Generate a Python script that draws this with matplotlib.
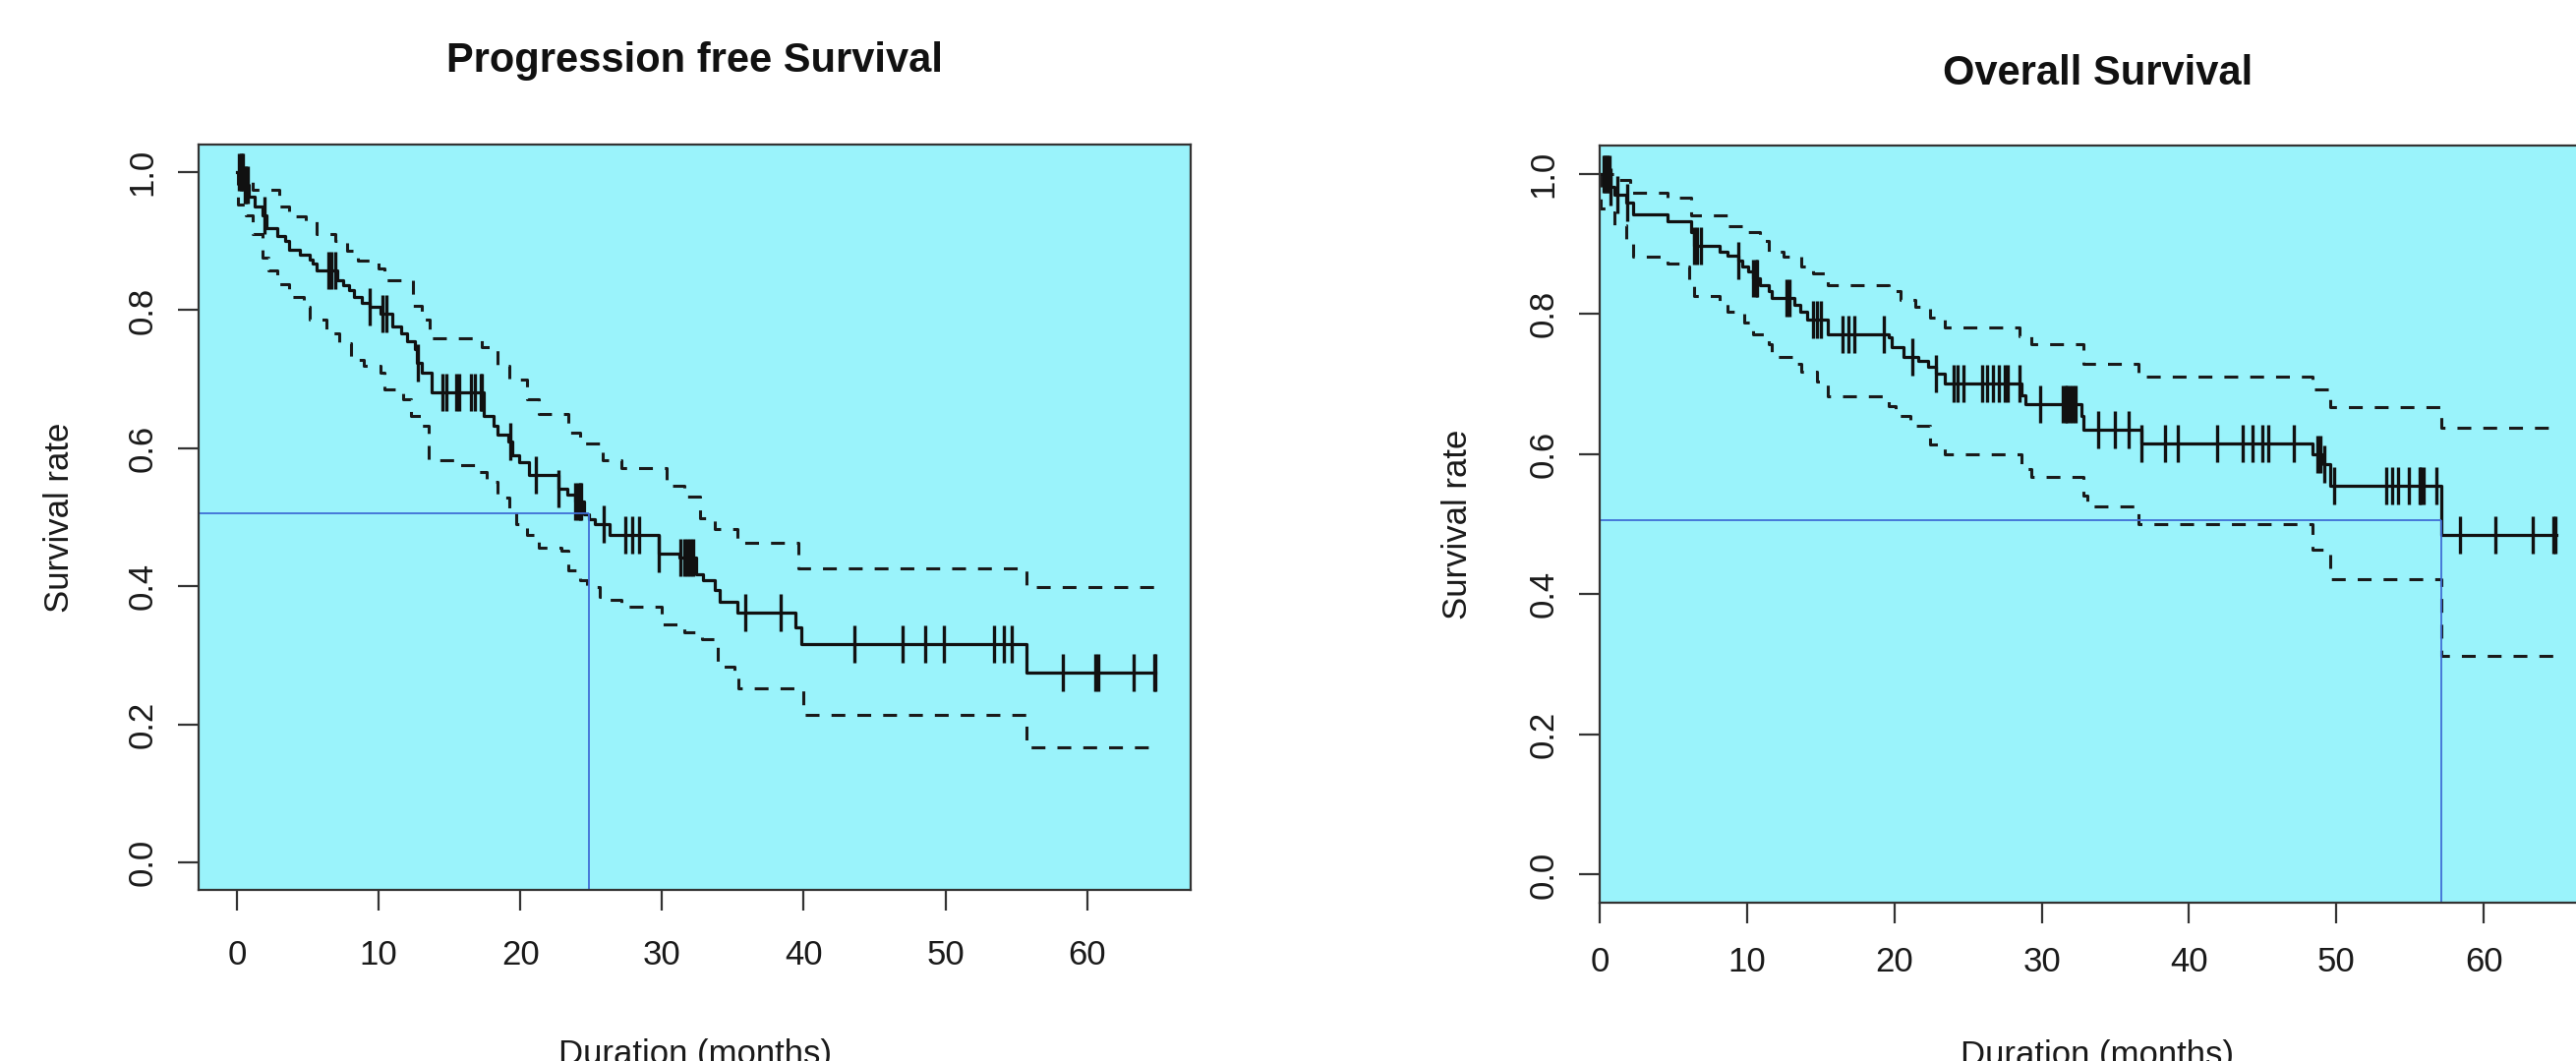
import numpy as np
import matplotlib
matplotlib.use('Agg')
import matplotlib.pyplot as plt

plt.rcParams['font.family'] = ['Liberation Sans', 'DejaVu Sans']

# ---- Progression free survival (months, survival) ----
pfs_time = [0, 0.48, 0.87, 1.27, 1.8, 2.07, 2.86, 3.39, 3.66, 4.45,
            5.11, 5.38, 5.64, 7.1, 7.5, 7.9, 8.29, 8.82, 9.35, 10.15,
            10.94, 11.61, 12.0, 12.53, 12.67, 13.06, 13.73, 17.44, 18.1, 18.36,
            19.16, 19.42, 19.95, 20.6, 22.7, 23.3, 23.9, 24.5, 24.85, 25.25,
            26.3, 29.75, 31.2, 32.4, 32.9, 33.7, 34.1, 35.3, 39.4, 39.8,
            55.7, 64.8]
pfs_surv = [1.0, 0.981, 0.965, 0.950, 0.938, 0.919, 0.907, 0.900, 0.888, 0.881,
            0.874, 0.867, 0.857, 0.843, 0.836, 0.829, 0.819, 0.810, 0.805, 0.795,
            0.776, 0.767, 0.755, 0.743, 0.724, 0.709, 0.681, 0.647, 0.633, 0.619,
            0.609, 0.590, 0.580, 0.561, 0.542, 0.533, 0.523, 0.504, 0.497, 0.490,
            0.475, 0.447, 0.442, 0.418, 0.409, 0.394, 0.378, 0.362, 0.340, 0.316,
            0.275, 0.275]
pfs_up_time = [0, 0.5, 1.14, 3.0, 3.66, 4.85, 5.64, 6.97, 7.76, 8.56,
               10.0, 10.4, 12.4, 13.06, 13.6, 17.3, 18.4, 19.2, 20.5, 21.3,
               23.4, 24.2, 25.8, 27.1, 30.3, 31.6, 32.7, 33.7, 35.3, 39.6,
               55.7, 64.8]
pfs_up = [1.0, 0.99, 0.974, 0.950, 0.936, 0.929, 0.910, 0.900, 0.886, 0.872,
          0.860, 0.843, 0.807, 0.786, 0.759, 0.747, 0.719, 0.700, 0.671, 0.650,
          0.623, 0.607, 0.583, 0.571, 0.545, 0.530, 0.499, 0.483, 0.463, 0.426,
          0.399, 0.399]
pfs_lo_time = [0, 0.08, 0.61, 1.14, 1.8, 2.2, 2.86, 3.66, 4.72, 5.11,
               6.3, 7.23, 8.03, 8.96, 10.15, 10.4, 11.7, 12.27, 13.06, 13.5,
               15.45, 16.8, 17.6, 18.4, 19.2, 19.7, 20.5, 21.3, 22.9, 23.4,
               24.2, 24.7, 25.6, 26.3, 27.1, 30.0, 31.6, 32.8, 33.9, 35.1,
               35.4, 40.0, 55.7, 64.8]
pfs_lo = [1.0, 0.953, 0.938, 0.910, 0.876, 0.857, 0.838, 0.819, 0.805, 0.786,
          0.767, 0.752, 0.728, 0.719, 0.709, 0.685, 0.671, 0.647, 0.633, 0.582,
          0.576, 0.566, 0.552, 0.528, 0.509, 0.490, 0.475, 0.456, 0.452, 0.423,
          0.409, 0.399, 0.385, 0.380, 0.370, 0.345, 0.333, 0.323, 0.284, 0.270,
          0.252, 0.213, 0.166, 0.166]
pfs_censored = [0.15, 0.25, 0.35, 0.45, 0.55, 0.65, 0.75, 1.93, 6.44, 6.70,
                6.97, 9.35, 10.28, 10.55, 12.8, 14.5, 14.8, 15.45, 15.7, 16.5,
                16.8, 17.2, 17.3, 19.3, 21.1, 22.7, 23.9, 24.05, 24.2, 24.3,
                25.9, 27.4, 27.9, 28.4, 29.75, 31.3, 31.6, 31.8, 32.0, 32.2,
                35.85, 38.4, 43.6, 47.0, 48.6, 49.9, 53.4, 54.1, 54.7, 58.3,
                60.6, 60.8, 63.3, 64.7, 64.8]
pfs_median = 24.86

# ---- Overall survival ----
os_time = [0, 0.76, 1.02, 1.78, 2.29, 4.58, 6.23, 6.4, 8.14, 8.65,
           9.4, 9.67, 10.05, 10.4, 10.9, 11.45, 11.7, 13.2, 13.6, 14.1,
           15.5, 19.6, 19.85, 20.6, 21.6, 22.3, 22.8, 23.4, 28.6, 28.9,
           32.7, 32.8, 36.8, 48.4, 49.1, 49.6, 57.1, 64.9]
os_surv = [1.0, 0.981, 0.970, 0.958, 0.942, 0.932, 0.916, 0.897, 0.888, 0.883,
           0.876, 0.867, 0.860, 0.850, 0.841, 0.832, 0.822, 0.813, 0.803, 0.792,
           0.771, 0.766, 0.752, 0.738, 0.733, 0.724, 0.715, 0.700, 0.684, 0.671,
           0.654, 0.635, 0.615, 0.600, 0.585, 0.555, 0.485, 0.485]
os_up_time = [0, 0.25, 1.0, 2.04, 4.58, 6.23, 8.65, 9.9, 10.9, 11.45,
              12.5, 13.7, 14.5, 15.5, 19.6, 20.4, 21.4, 22.4, 23.4, 28.5,
              29.3, 32.8, 36.6, 48.4, 49.6, 57.1, 64.9]
os_up = [1.0, 1.0, 0.991, 0.972, 0.965, 0.940, 0.925, 0.916, 0.904, 0.888,
         0.881, 0.867, 0.857, 0.841, 0.832, 0.820, 0.810, 0.794, 0.780, 0.768,
         0.757, 0.729, 0.711, 0.692, 0.667, 0.638, 0.638]
os_lo_time = [0, 0.1, 0.38, 1.02, 1.78, 2.29, 4.58, 5.85, 6.1, 6.4,
              8.14, 8.65, 9.8, 10.4, 11.45, 11.7, 13.2, 13.7, 14.75, 15.5,
              19.6, 20.1, 21.1, 22.4, 23.4, 28.6, 29.3, 32.8, 33.1, 36.6,
              48.4, 49.6, 57.1, 64.9]
os_lo = [1.0, 0.95, 0.944, 0.927, 0.906, 0.881, 0.871, 0.867, 0.846, 0.825,
         0.818, 0.803, 0.787, 0.771, 0.757, 0.738, 0.729, 0.717, 0.703, 0.682,
         0.668, 0.654, 0.640, 0.614, 0.600, 0.579, 0.567, 0.541, 0.525, 0.500,
         0.464, 0.422, 0.312, 0.312]
os_censored = [0.25, 0.35, 0.45, 0.55, 0.65, 0.76, 1.2, 1.9, 6.4, 6.6,
               6.9, 9.4, 10.4, 10.6, 10.7, 12.7, 12.85, 14.5, 14.75, 15.0,
               16.5, 16.9, 17.3, 19.3, 21.2, 22.8, 24.0, 24.3, 24.7, 25.95,
               26.3, 26.7, 27.1, 27.5, 27.7, 28.5, 29.9, 31.4, 31.6, 31.7,
               31.9, 32.1, 32.3, 33.8, 35.0, 35.9, 36.8, 38.4, 39.25, 41.9,
               43.65, 44.3, 45.0, 45.4, 47.1, 48.7, 48.9, 49.2, 49.85, 53.4,
               53.8, 54.2, 54.9, 55.65, 55.75, 55.9, 56.8, 58.4, 60.8, 63.3,
               64.75, 64.85]
os_median = 57.15

median_level = 0.505
x_ticks = [0, 10, 20, 30, 40, 50, 60]
y_ticks = [0.0, 0.2, 0.4, 0.6, 0.8, 1.0]
y_ticklabels = ['0.0', '0.2', '0.4', '0.6', '0.8', '1.0']

BG = '#9af3fb'
EDGE = '#333333'
W, H = 2620, 1079

fig = plt.figure(figsize=(W / 100, H / 100), dpi=100)
ax1 = fig.add_axes([202 / W, (H - 905) / H, 1009 / W, 758 / H])
ax2 = fig.add_axes([1627 / W, (H - 918) / H, 1013 / W, 770 / H])


def level_at(times, levels, t):
    idx = np.searchsorted(times, t, side='right') - 1
    return np.asarray(levels)[idx]


def draw_km(ax, t, s, ut, u, lt, l, cens, med, xlim, title, title_pad,
            xlab_y, xtick_pad):
    ylim = (-0.04, 1.04)
    ax.set_facecolor(BG)
    ax.plot(ut, u, drawstyle='steps-post', color='#1a1a1a', lw=2.2,
            dashes=(4.6, 4.0))
    ax.plot(lt, l, drawstyle='steps-post', color='#1a1a1a', lw=2.2,
            dashes=(4.6, 4.0))
    ax.plot(t, s, drawstyle='steps-post', color='#111111', lw=2.3)
    ax.plot(cens, level_at(t, s, cens), linestyle='none', marker='|',
            markersize=27, markeredgewidth=2.4, color='#111111')
    ax.hlines(median_level, xlim[0], med, color='#3f6fd6', lw=1.3)
    ax.vlines(med, ylim[0], median_level, color='#3f6fd6', lw=1.3)
    ax.set_xlim(*xlim)
    ax.set_ylim(*ylim)
    ax.set_xticks(x_ticks)
    ax.set_yticks(y_ticks)
    ax.set_yticklabels(y_ticklabels, rotation=90, va='center')
    ax.tick_params(axis='both', direction='out', length=15, width=1.6,
                   color=EDGE, labelsize=25, labelcolor='#1a1a1a')
    ax.tick_params(axis='y', pad=14)
    ax.tick_params(axis='x', pad=xtick_pad)
    for sp in ax.spines.values():
        sp.set_color(EDGE)
        sp.set_linewidth(1.6)
    ax.set_title(title, fontsize=30, fontweight='bold', pad=title_pad,
                 color='#111111')
    ax.set_xlabel('Duration (months)', fontsize=25, color='#1a1a1a')
    ax.xaxis.set_label_coords(0.5, xlab_y)
    ax.xaxis.label.set_verticalalignment('center')
    ax.set_ylabel('Survival rate', fontsize=25, color='#1a1a1a')


draw_km(ax1, pfs_time, pfs_surv, pfs_up_time, pfs_up, pfs_lo_time, pfs_lo,
        pfs_censored, pfs_median, (-2.7, 67.3), 'Progression free Survival',
        53, -0.2216, 21)
ax1.yaxis.set_label_coords(-0.1407, 0.5)
ax1.yaxis.label.set_verticalalignment('center')

draw_km(ax2, os_time, os_surv, os_up_time, os_up, os_lo_time, os_lo,
        os_censored, os_median, (0, 67.6), 'Overall Survival',
        45, -0.2013, 17)
ax2.yaxis.set_label_coords(-0.1431, 0.5)
ax2.yaxis.label.set_verticalalignment('center')

fig.savefig('out.png', dpi=100)
